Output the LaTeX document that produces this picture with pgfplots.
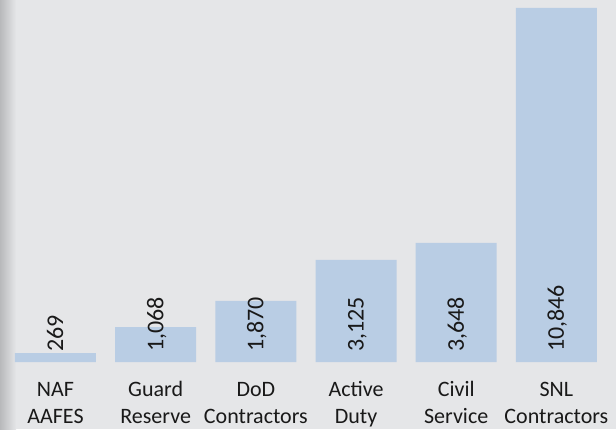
\documentclass[border=0pt]{standalone}
\usepackage{pgfplots}
\pgfplotsset{compat=1.18}
\usepackage{fontspec}
\setmainfont{Carlito}
\definecolor{bgc}{RGB}{229,230,232}
\definecolor{shadowc}{RGB}{184,185,187}
\definecolor{barc}{RGB}{185,205,228}
\begin{document}
\begin{tikzpicture}
\useasboundingbox (0,0) rectangle (462pt,321.75pt);
\fill[bgc] (0,0) rectangle (462pt,321.75pt);
\shade[left color=shadowc, right color=bgc] (0,0) rectangle (12pt,321.75pt);
\begin{axis}[
  at={(4.05pt,50.25pt)}, anchor=south west,
  scale only axis, width=450.8pt, height=271.5pt,
  xmin=-0.5, xmax=5.5, ymin=0, ymax=11090,
  clip=false,
  axis x line*=bottom, axis y line=none,
  x axis line style={draw=none},
  xtick={0,1,2,3,4,5},
  major tick length=0pt,
  xticklabels={{\strut NAF\\\strut AAFES},{\strut Guard\\\strut Reserve},{\strut DoD\\\strut Contractors},{\strut Active\\\strut Duty},{\strut Civil\\\strut Service},{\strut SNL\\\strut Contractors}},
  xticklabel style={align=center, anchor=north, inner sep=0pt, yshift=-11.8pt, font=\fontsize{16.5}{20}\selectfont, text=black!90},
  /pgf/number format/assume math mode=true,
]
\addplot[ybar, bar width=60.75pt, fill=barc, draw=none] coordinates {
  (0,269) (1,1068) (2,1870) (3,3125) (4,3648) (5,10846)};
\addplot[draw=none, mark=none, point meta=explicit,
  nodes near coords={\pgfmathprintnumber[1000 sep={,}]{\pgfplotspointmeta}},
  nodes near coords align={anchor=west},
  every node near coord/.append style={rotate=90, anchor=west, inner ysep=0pt, inner xsep=7.5pt, text height=11.4pt, text depth=0pt, font=\fontsize{18}{21}\selectfont, text=black!90}]
  coordinates {(0,0) [269] (1,0) [1068] (2,0) [1870] (3,0) [3125] (4,0) [3648] (5,0) [10846]};
\end{axis}
\end{tikzpicture}
\end{document}
